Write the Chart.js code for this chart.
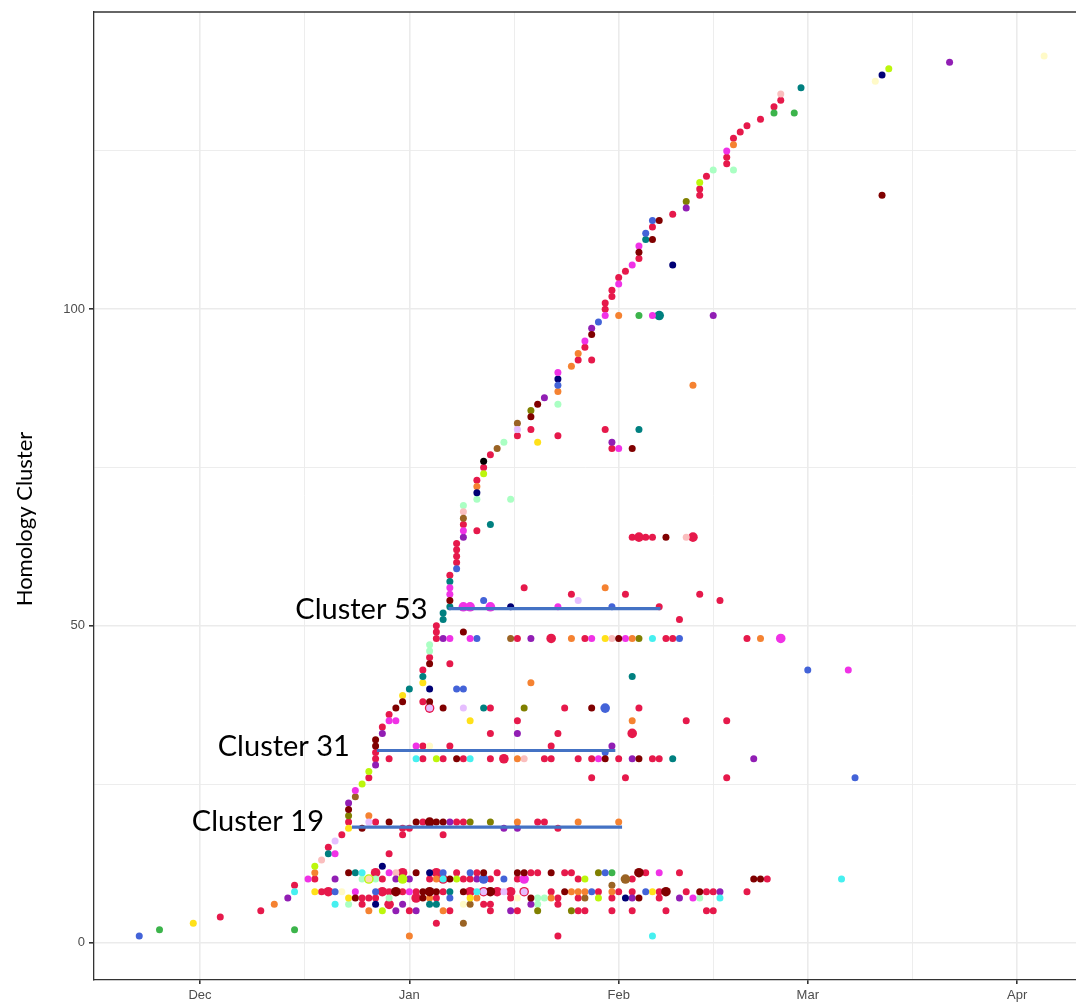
<!DOCTYPE html>
<html>
<head>
<meta charset="utf-8">
<script src="https://cdn.jsdelivr.net/npm/chart.js@4.4.1/dist/chart.umd.min.js"></script>
<style>
  html, body { margin: 0; padding: 0; background: #ffffff; overflow: hidden; width: 1076px; height: 1002px; }
  canvas { display: block; }
</style>
</head>
<body>
<canvas id="chart" width="1082" height="1002"></canvas>
<script>
// Each point: [days since 1 Dec 2020, homology cluster, sequences at that date (default 1)]
const red = [[3,4],[9,5],[31,5],[37,5],[43,5],[47,5],[56,5],[57,5],[61,5],[64,5],[69,5],[75,5],[76,5],
  [53,1],[35,3],
  [24,6],[28,6,2],[42,6],[43,6],[53,6],
  [24,7],[25,7],[26,7],[32,7,2],[35,7],[46,7],[53,7],[56,7],[61,7],[68,7],
  [18,8],[19,8,2],[27,8,2],[28,8],[30,8],[32,8],[36,8],[40,8,2],[42,8,2],[44,8,2],[46,8,2],[48,8,2],[52,8],[59,8],[62,8],[64,8],[68,8],[72,8],[75,8],[76,8],[81,8],
  [14,9],
  [17,10],[27,10],[34,10],[36,10,2],[39,10],[40,10],[43,10],[47,10],[56,10],[64,10],[84,10],
  [26,11,2],[30,11,2],[35,11,2],[38,11],[41,11],[44,11],[49,11],[50,11],[54,11],[55,11],[66,11],[71,11],
  [28,14],[19,15],[21,17],[30,17],[36,17],[30,18],[31,18],[53,18],
  [22,19],[26,19],[33,19],[38,19],[39,19],[50,19],[51,19],
  [25,26],[58,26],[63,26],[78,26],
  [26,29],[28,29],[33,29],[36,29],[39,29],[43,29],[45,29,2],[51,29],[52,29],[56,29],[58,29],[62,29],[67,29],[68,29],
  [26,30],[33,31],[37,31],[52,31],[43,33],[53,33],[64,33,2],[27,34],[47,35],[72,35],[78,35],[28,36],
  [34,37,2],[43,37],[54,37],[65,37],[33,38],[33,43],[37,44],[34,45],
  [35,48],[47,48],[52,48,2],[57,48],[69,48],[70,48],[81,48],[35,49],[35,50],[71,51],[68,53],[77,54],
  [55,55],[63,55],[74,55],[48,56],[37,58],
  [38,60],[38,61],[38,62],[38,63],[64,64],[65,64,2],[66,64],[67,64],[73,64,2],[41,65],[39,66],[41,73],
  [42,75],[43,77],[61,78],[47,80],[53,80],[49,81],[60,81],
  [56,92],[58,92],[57,94],[60,100],[60,101],[61,102],[61,103],[62,105],[63,106],[65,108],[67,113],[70,115],
  [74,118],[74,119],[75,121],[78,123],[78,124],[79,127],[80,128],[81,129],[83,130],[85,132],[86,133]];

const maroon = [[23,7],[33,7],[49,7],[65,7],
  [29,8,2],[33,8],[34,8,2],[35,8],[39,8],[43,8,2],[54,8],[69,8,2],[74,8],
  [37,10],[82,10],[83,10],
  [22,11],[32,11],[42,11],[47,11],[48,11],[52,11],[65,11,2],
  [24,18],[28,19],[32,19],[34,19,2],[35,19],[36,19],[22,21],
  [38,29],[60,29],[65,29],[26,31],[26,32],[29,37],[36,37],[58,37],[30,38],[34,38],[34,44],
  [62,48],[39,49],[37,54],[69,64],[64,78],[49,83],[50,85],[58,96],[65,109],[67,111],[68,114],[101,118]];

const magenta = [[16,10],[20,14],[23,8],[31,8],[28,11],[48,10,2],[68,11],[73,7],[23,24],[28,35],[29,35],
  [32,31],[59,29],[37,48],[40,48],[58,48],[63,48],[86,48,2],[37,55],[37,56],[39,53,2],[40,53,2],[43,53,2],
  [53,53],[39,65],[62,78],[57,95],[53,90],[60,99],[67,99],[62,104],[64,107],[65,110],[78,125],[96,43]];

const blue = [[-9,1],[20,8],[26,8],[36,11],[40,11],[45,10],[58,8],[66,8],[37,7],[42,10,2],[60,11],
  [38,59],[42,54],[61,53],[41,48],[71,48],[38,40],[39,40],[60,37,2],[60,30],[90,43],[97,26],
  [59,98],[53,88],[66,112],[67,114]];

const navy = [[27,12],[34,11],[26,6],[63,7],[46,53],[34,40],[41,71],[53,89],[70,107],[101,137]];

const teal = [[19,14],[23,11],[34,6],[35,6],[37,8],[42,37],[70,29],[31,40],[33,42],[36,51],[36,52],[37,53],
  [37,57],[64,42],[43,66],[65,81],[68,99,2],[66,111],[89,135]];

const cyan = [[14,8],[20,6],[24,11],[36,10],[41,8],[77,7],[95,10],[67,1],[32,29],[40,29],[67,48]];

const lime = [[17,12],[25,10,2],[30,10,2],[38,10],[27,5],[57,10],[59,7],[24,25],[25,27],[35,29],
  [42,74],[74,120],[102,138]];

const yellow = [[-1,3],[17,8],[22,7],[40,7],[67,8],[22,18],[40,35],[30,39],[33,41],[60,48],[50,79]];

const orange = [[11,6],[17,11],[25,5],[34,7],[41,7],[35,10],[36,5],[31,1],[52,7],[55,8],[56,8],[57,8],
  [61,8],[25,20],[47,19],[56,19],[62,19],[47,29],[64,35],[49,41],[55,48],[64,48],[83,48],[60,56],
  [41,72],[55,91],[53,87],[56,93],[62,99],[73,88],[79,126]];

const purple = [[13,7],[20,10],[29,10],[31,10],[41,10],[30,6],[29,5],[32,5],[46,5],[49,6],[64,7],[71,7],
  [77,8],[37,19],[45,18],[47,18],[22,22],[26,28],[27,33],[47,33],[61,31],[64,29],[82,29],[36,48],
  [49,48],[39,64],[51,86],[58,97],[61,79],[76,99],[72,116],[111,139]];

const green = [[-6,2],[14,2],[61,11],[65,99],[85,131],[88,131]];

const olive = [[59,11],[50,5],[55,5],[22,20],[40,19],[43,19],[48,37],[65,48],[49,84],[72,117]];

const brown = [[61,9],[63,10,2],[39,3],[40,6],[57,7],[23,23],[46,48],[39,67],[44,78],[47,82]];

const pink = [[18,13],[29,11],[48,29],[61,48],[39,68],[72,64],[86,134]];

const lavender = [[20,16],[45,8],[42,8],[48,8],[25,19],[34,37],[39,37],[56,54],[47,81]];

const mint = [[24,10],[26,10],[22,6],[28,7],[50,7],[51,7],[50,6],[74,7],[34,46],[34,47],[41,70],[46,70],
  [39,69],[45,79],[53,85],[76,122],[79,122]];

const beige = [[21,8],[34,31],[39,6],[47,7],[100,136],[125,140]];

const apricot = [[25,10]];

const black = [[42,76]];

// Highlighted clusters: horizontal span in days and the row it sits on
const highlightNames = ['Cluster 53', 'Cluster 31', 'Cluster 19'];
const highlightStart = [36.8, 26.2, 22.5];
const highlightEnd = [68.2, 61.5, 62.5];
const highlightRow = [52.7, 30.3, 18.2];

// Axis breaks (days since 1 Dec 2020)
const monthBreaks = [0, 31, 62, 90, 121];
const monthLabels = ['Dec', 'Jan', 'Feb', 'Mar', 'Apr'];
const monthMinor = [15.5, 46.5, 76, 105.5];
const clusterBreaks = [0, 50, 100];
const clusterMinor = [25, 75, 125];

const groups = [
  { data: red, color: '#e6194b', order: 10 },
  { data: maroon, color: '#800000', order: 6 },
  { data: magenta, color: '#f032e6', order: 6 },
  { data: blue, color: '#4363d8', order: 6 },
  { data: navy, color: '#000075', order: 6 },
  { data: teal, color: '#008080', order: 6 },
  { data: cyan, color: '#46f0f0', order: 5 },
  { data: lime, color: '#bcf60c', order: 6 },
  { data: yellow, color: '#ffe119', order: 6 },
  { data: orange, color: '#f58231', order: 6 },
  { data: purple, color: '#911eb4', order: 6 },
  { data: green, color: '#3cb44b', order: 6 },
  { data: olive, color: '#808000', order: 6 },
  { data: brown, color: '#9a6324', order: 6 },
  { data: pink, color: '#fabebe', order: 6 },
  { data: lavender, color: '#e6beff', order: 5 },
  { data: mint, color: '#aaffc3', order: 6 },
  { data: beige, color: '#fffac8', order: 6 },
  { data: apricot, color: '#ffd8b1', order: 4 },
  { data: black, color: '#000000', order: 6 }
];

const pointDatasets = groups.map(g => ({
  data: g.data.map(p => ({ x: p[0], y: p[1], n: p[2] || 1 })),
  order: g.order,
  pointBackgroundColor: g.color,
  pointBorderColor: g.color,
  pointBorderWidth: 0,
  pointRadius: ctx => (ctx.raw && ctx.raw.n > 1 ? 4.8 : 3.5),
  pointHoverRadius: ctx => (ctx.raw && ctx.raw.n > 1 ? 4.8 : 3.5),
  showLine: false
}));

const lineDatasets = highlightNames.map((name, i) => ({
  label: name,
  data: [{ x: highlightStart[i], y: highlightRow[i] }, { x: highlightEnd[i], y: highlightRow[i] }],
  showLine: true,
  borderColor: '#4472c4',
  borderWidth: 3.2,
  pointRadius: 0,
  order: 0
}));

const isMajor = (v, list) => list.some(b => Math.abs(b - v) < 1e-6);

// Caption placement in pixels: gap to the left of each bar and vertical nudge
const captionGap = [21, 27, 28];
const captionNudge = [1, -4, -5];

// Cluster captions, axis title and the top panel edge
const captionPlugin = {
  id: 'captions',
  afterDatasetsDraw(chart) {
    const { ctx, scales, chartArea } = chart;
    ctx.save();
    ctx.font = '29px Lato, "Open Sans", sans-serif';
    ctx.fillStyle = '#000000';
    ctx.textAlign = 'right';
    ctx.textBaseline = 'middle';
    highlightNames.forEach((name, i) => {
      const x = scales.x.getPixelForValue(highlightStart[i]) - captionGap[i];
      const y = scales.y.getPixelForValue(highlightRow[i]) + captionNudge[i];
      ctx.fillText(name, x, y);
    });

    ctx.save();
    ctx.translate(25, 519);
    ctx.rotate(-Math.PI / 2);
    ctx.textAlign = 'center';
    ctx.font = '22px Lato, "Open Sans", sans-serif';
    ctx.fillText('Homology Cluster', 0, 0);
    ctx.restore();

    ctx.strokeStyle = '#333333';
    ctx.lineWidth = 1.3;
    ctx.beginPath();
    ctx.moveTo(chartArea.left, chartArea.top);
    ctx.lineTo(chartArea.right, chartArea.top);
    ctx.stroke();
    ctx.restore();
  }
};

new Chart(document.getElementById('chart'), {
  type: 'scatter',
  data: { datasets: [...lineDatasets, ...pointDatasets] },
  options: {
    responsive: false,
    animation: false,
    devicePixelRatio: 1,
    layout: { padding: { top: 12, right: 0, left: 0, bottom: 0 } },
    plugins: { legend: { display: false }, tooltip: { enabled: false } },
    scales: {
      x: {
        type: 'linear',
        min: -15.7,
        max: 129.9,
        afterBuildTicks: s => { s.ticks = [...monthBreaks, ...monthMinor].sort((a, b) => a - b).map(v => ({ value: v })); },
        afterFit: s => { s.height = 22; },
        grid: {
          color: '#ebebeb',
          lineWidth: c => (c.tick && isMajor(c.tick.value, monthBreaks) ? 1.6 : 0.9),
          tickLength: 4,
          tickColor: c => (c.tick && isMajor(c.tick.value, monthBreaks) ? '#333333' : 'rgba(0,0,0,0)')
        },
        border: { display: true, color: '#333333', width: 1.3 },
        ticks: {
          autoSkip: false,
          maxRotation: 0,
          padding: 4,
          color: '#4d4d4d',
          font: { family: '"Liberation Sans", Arial, sans-serif', size: 13 },
          callback: v => { const i = monthBreaks.findIndex(b => Math.abs(b - v) < 1e-6); return i >= 0 ? monthLabels[i] : ''; }
        }
      },
      y: {
        type: 'linear',
        min: -5.95,
        max: 146.95,
        afterBuildTicks: s => { s.ticks = [...clusterBreaks, ...clusterMinor].sort((a, b) => a - b).map(v => ({ value: v })); },
        afterFit: s => { s.width = 94; },
        grid: {
          color: '#ebebeb',
          lineWidth: c => (c.tick && isMajor(c.tick.value, clusterBreaks) ? 1.6 : 0.9),
          tickLength: 5,
          tickColor: c => (c.tick && isMajor(c.tick.value, clusterBreaks) ? '#333333' : 'rgba(0,0,0,0)')
        },
        border: { display: true, color: '#333333', width: 1.3 },
        ticks: {
          autoSkip: false,
          padding: 4,
          color: '#4d4d4d',
          font: { family: '"Liberation Sans", Arial, sans-serif', size: 13 },
          callback: v => (isMajor(v, clusterBreaks) ? String(v) : '')
        }
      }
    }
  },
  plugins: [captionPlugin]
});
</script>
</body>
</html>
